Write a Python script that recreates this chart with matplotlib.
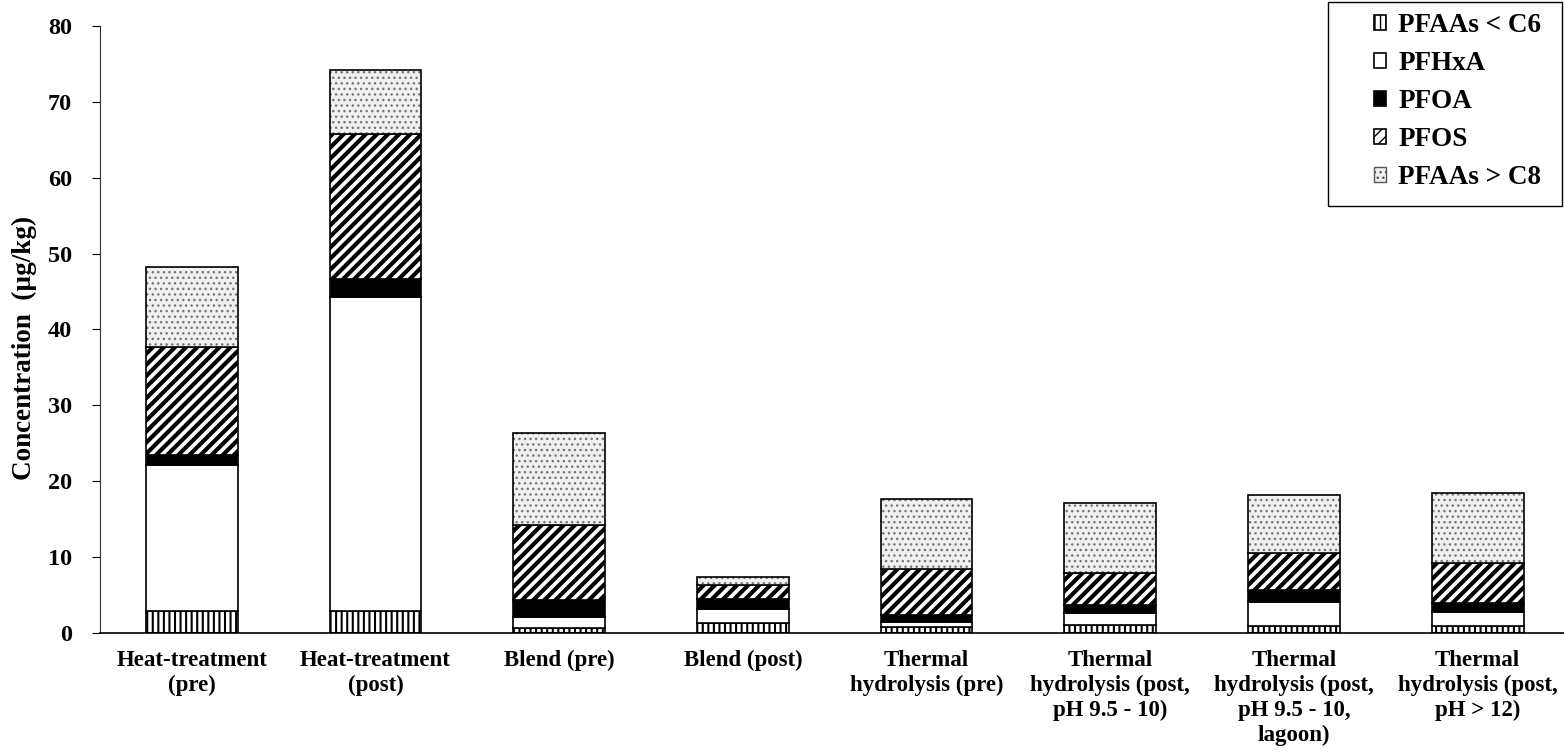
import matplotlib
matplotlib.use('Agg')
import matplotlib.pyplot as plt
from matplotlib.patches import Patch, Rectangle
import numpy as np

plt.rcParams['font.family'] = ['Liberation Serif', 'DejaVu Serif']
plt.rcParams['font.weight'] = 'bold'

# Data (ug/kg)
samples = ["Heat-treatment\n(pre)", "Heat-treatment\n(post)", "Blend (pre)", "Blend (post)",
           "Thermal\nhydrolysis (pre)", "Thermal\nhydrolysis (post,\npH 9.5 - 10)",
           "Thermal\nhydrolysis (post,\npH 9.5 - 10,\nlagoon)", "Thermal\nhydrolysis (post,\npH > 12)"]
pfaas_lt_c6 = [2.9, 2.9, 0.6, 1.35, 0.85, 1.0, 0.9, 0.9]
pfhxa = [19.2, 41.4, 1.45, 1.75, 0.65, 1.7, 3.2, 1.9]
pfoa = [1.4, 2.3, 2.3, 1.4, 0.9, 1.0, 1.6, 1.2]
pfos = [14.2, 19.1, 9.85, 1.8, 6.0, 4.2, 4.9, 5.2]
pfaas_gt_c8 = [10.6, 8.5, 12.1, 1.1, 9.25, 9.2, 7.6, 9.3]

# name, values, face, hatch, hatch linewidth
series = [("PFAAs < C6", pfaas_lt_c6, 'white', '|||', 1.5),
          ("PFHxA", pfhxa, 'white', None, 1.0),
          ("PFOA", pfoa, 'black', None, 1.0),
          ("PFOS", pfos, 'white', '///', 3.0),
          ("PFAAs > C8", pfaas_gt_c8, '#f0f0f0', '...', 1.0)]

fig = plt.figure(figsize=(15.64, 7.55), dpi=100)
ax = fig.add_axes([0.0639, 0.1616, 0.9361, 0.804])

x = np.arange(len(samples))
width = 0.5
bottom = np.zeros(len(samples))
handles = []
for name, vals, fc, hatch, hlw in series:
    vals = np.array(vals)
    with plt.rc_context({'hatch.linewidth': hlw}):
        if name == "PFAAs > C8":
            # grey stipple, then a black outline on top
            ax.bar(x, vals, width, bottom=bottom, color=fc, edgecolor='#777777',
                   hatch=hatch, linewidth=0)
            ax.bar(x, vals, width, bottom=bottom, fill=False, edgecolor='black', linewidth=1.2)
            handles.append(Patch(facecolor=fc, edgecolor='#555555', hatch='...',
                                 linewidth=1.0, label=name))
        else:
            b = ax.bar(x, vals, width, bottom=bottom, color=fc, edgecolor='black',
                       hatch=hatch, linewidth=1.2, label=name)
            handles.append(b)
    bottom += vals

ax.set_xlim(-0.5, 7.47)
ax.set_ylim(0, 80)
ax.set_yticks(np.arange(0, 81, 10))
ax.set_xticks(x)
ax.set_xticklabels(samples, fontsize=16.5, fontweight='bold', linespacing=1.25)
ax.tick_params(axis='x', length=0, pad=12)
ax.tick_params(axis='y', direction='out', length=6, labelsize=17.5, pad=14)
for lbl in ax.get_yticklabels():
    lbl.set_fontweight('bold')
ax.spines['top'].set_visible(False)
ax.spines['right'].set_visible(False)
ax.spines['left'].set_color('#333333')
ax.spines['bottom'].set_linewidth(1.2)
ax.set_ylabel("Concentration  (µg/kg)", fontsize=19.5, fontweight='bold')
ax.yaxis.set_label_coords(-0.043, 0.47)

# legend: frame drawn separately (wide left margin as in the original)
fig.add_artist(Rectangle((1328 / 1564, 1 - 206 / 755), 234 / 1564, 204 / 755,
                         transform=fig.transFigure, fill=False, edgecolor='black',
                         linewidth=1.0))
leg = fig.legend(handles=handles, loc='upper left', bbox_to_anchor=(1374 / 1564, 1 - 13 / 755),
                 fontsize=19.5, frameon=False,
                 handlelength=0.45, handleheight=0.45, handletextpad=0.45,
                 labelspacing=0.48, borderpad=0, borderaxespad=0)
for t in leg.get_texts():
    t.set_fontweight('bold')

fig.savefig('out.png', dpi=100)
